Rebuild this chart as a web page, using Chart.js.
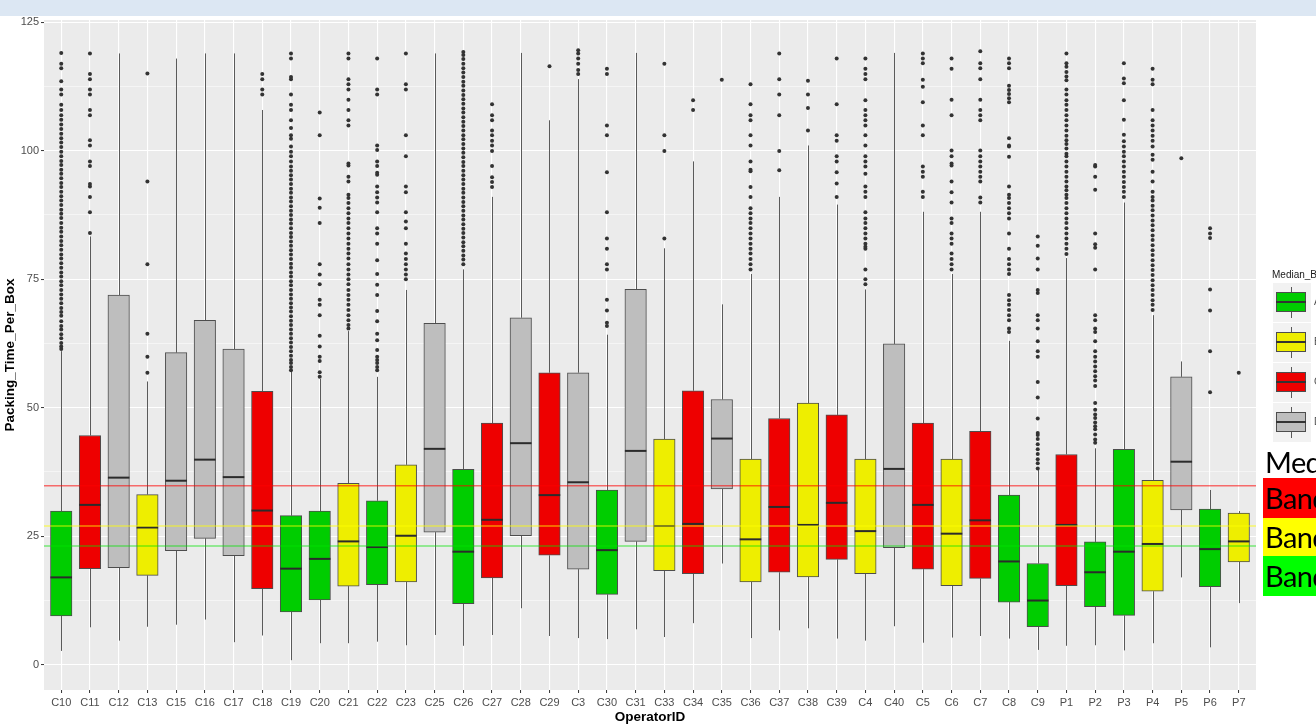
<!DOCTYPE html>
<html>
<head>
<meta charset="utf-8">
<title>Packing time per box by operator</title>
<script src="https://cdn.jsdelivr.net/npm/chart.js@4.4.1/dist/chart.umd.min.js"></script>
<style>
  html, body { margin: 0; padding: 0; background: #fff; width: 1316px; height: 725px; overflow: hidden; }
  #wrap { position: relative; width: 1316px; height: 725px; overflow: hidden; }
  #banner { position: absolute; left: 0; top: 0; width: 1316px; height: 16px; background: #dce7f3; }
  #chart { position: absolute; left: 0; top: 0; }
  .leg-title { position: absolute; left: 1272px; top: 269px; font: 10px 'Liberation Sans', Arial, sans-serif; color: #1a1a1a; white-space: nowrap; }
  .leg-key { position: absolute; left: 1273px; width: 38px; height: 39px; background: #f2f2f2; }
  .leg-key .wh { position: absolute; left: 18px; top: 4px; width: 1px; height: 31px; background: #595959; }
  .leg-key .bx { position: absolute; left: 3px; top: 9px; width: 30px; height: 20px; border: 1px solid #4d4d4d; box-sizing: border-box; }
  .leg-key .md { position: absolute; left: 3px; top: 18px; width: 30px; height: 2px; background: #333; }
  .leg-lab { position: absolute; left: 1314px; font: 10px 'Liberation Sans', Arial, sans-serif; color: #4d4d4d; }
  .note { position: absolute; left: 1263px; width: 120px; font-family: Lato, 'Open Sans', sans-serif; font-size: 29px; color: #000; white-space: nowrap; padding-left: 2px; letter-spacing: -0.6px; }
</style>
</head>
<body>
<div id="wrap">
  <div id="banner"></div>
  <canvas id="chart" width="1316" height="725"></canvas>
  <div id="legend"></div>
  <div class="note" style="top:444px;height:34px;line-height:36px;">Median</div>
  <div class="note" style="top:477.5px;height:40px;line-height:40px;background:#ff0000;">Band C</div>
  <div class="note" style="top:517.5px;height:38px;line-height:38px;background:#ffff00;">Band B</div>
  <div class="note" style="top:555.5px;height:40px;line-height:40px;background:#00ff00;">Band A</div>
</div>
<script>
// operators in the order ggplot sorted them
const operators = ['C10','C11','C12','C13','C15','C16','C17','C18','C19','C20',
                   'C21','C22','C23','C25','C26','C27','C28','C29','C3','C30',
                   'C31','C33','C34','C35','C36','C37','C38','C39','C4','C40',
                   'C5','C6','C7','C8','C9','P1','P2','P3','P4','P5',
                   'P6','P7'];

const medianBand = ['A','C','D','B','D','D','D','C','A','A',
                    'B','A','B','D','A','C','D','C','D','A',
                    'D','B','C','D','B','C','B','C','B','D',
                    'C','B','C','A','A','C','A','A','B','D',
                    'A','B'];

const whiskerLow = [2.7, 7.3, 4.7, 7.4, 7.8, 8.8, 4.4, 5.7, 0.9, 4.2,
                    4.2, 4.5, 3.8, 5.8, 3.7, 5.8, 11.0, 5.6, 5.2, 5.0,
                    6.9, 5.4, 8.1, 19.7, 5.2, 6.7, 7.1, 5.1, 4.7, 7.5,
                    4.3, 5.3, 5.6, 5.1, 2.9, 3.7, 3.8, 2.8, 4.2, 17.0,
                    3.4, 12.0];

const q1 = [9.5, 18.7, 18.9, 17.4, 22.2, 24.6, 21.2, 14.8, 10.3, 12.6,
            15.3, 15.6, 16.1, 25.8, 11.9, 16.9, 25.1, 21.3, 18.6, 13.7,
            24.0, 18.3, 17.7, 34.2, 16.1, 18.0, 17.1, 20.5, 17.7, 22.8,
            18.6, 15.4, 16.8, 12.2, 7.4, 15.4, 11.3, 9.6, 14.3, 30.1,
            15.2, 20.0];

const median = [17.0, 31.1, 36.4, 26.7, 35.8, 39.9, 36.5, 30.0, 18.7, 20.6,
                24.0, 22.9, 25.1, 42.0, 22.0, 28.2, 43.1, 33.0, 35.5, 22.3,
                41.6, 27.0, 27.4, 44.0, 24.4, 30.7, 27.2, 31.5, 26.0, 38.1,
                31.1, 25.5, 28.1, 20.1, 12.5, 27.2, 18.0, 22.0, 23.5, 39.5,
                22.5, 24.0];

const q3 = [29.9, 44.6, 71.9, 33.1, 60.7, 67.0, 61.4, 53.2, 29.0, 29.9,
            35.3, 31.9, 38.9, 66.4, 38.0, 47.0, 67.5, 56.8, 56.8, 34.0,
            73.0, 43.9, 53.3, 51.6, 40.0, 47.9, 50.9, 48.6, 40.0, 62.4,
            47.0, 40.0, 45.4, 33.0, 19.7, 40.9, 23.9, 41.9, 35.9, 56.0,
            30.3, 29.5];

const whiskerHigh = [61.0, 83.3, 118.9, 55.1, 117.9, 118.9, 118.9, 107.9, 57.0, 55.6,
                     64.9, 56.0, 72.9, 118.9, 76.9, 91.0, 119.0, 105.9, 113.9, 64.2,
                     119.0, 81.0, 97.9, 70.1, 76.0, 91.0, 101.0, 89.5, 73.0, 119.0,
                     88.1, 76.0, 88.1, 63.0, 38.0, 79.1, 42.1, 89.9, 68.0, 59.0,
                     34.0, 29.9];

// outliers per operator, same order as operators
const outliers = [
  [61.4,61.9,62.6,63.5,64.3,65.2,65.9,66.8,67.9,68.6,69.4,70.3,71.2,72.0,72.9,73.8,74.6,75.5,76.3,77.2,78.1,79.0,79.8,80.7,81.6,82.4,83.3,84.2,85.0,85.9,86.9,87.7,88.5,89.4,90.3,91.1,92.0,92.9,93.7,94.6,95.5,96.3,97.2,98.0,98.9,99.8,100.7,101.6,102.4,103.3,104.2,105.1,106.0,106.9,107.9,108.9,110.9,111.9,113.5,116.0,116.9,119.0],
  [84.0,88.0,91.0,93.0,93.5,97.0,97.9,101.0,102.0,106.9,107.9,110.9,111.9,113.9,114.9,118.9],
  [],
  [56.8,59.9,64.4,77.9,94.0,115.0],
  [],
  [],
  [],
  [110.9,111.9,113.9,114.9],
  [57.3,57.9,58.7,59.3,60.1,61.0,61.8,62.7,63.5,64.4,65.2,66.1,66.9,67.8,68.7,69.5,70.3,71.2,72.0,72.9,73.8,74.6,75.5,76.3,77.2,78.0,78.9,79.8,80.6,81.5,82.3,83.2,84.0,84.9,85.8,86.6,87.5,88.3,89.2,90.1,90.9,91.8,92.6,93.5,94.4,95.2,96.1,96.9,97.9,98.9,99.8,100.8,102.3,103.0,104.4,105.9,107.9,108.9,110.9,113.9,114.3,117.9,118.9],
  [56.0,56.9,59.1,59.9,61.9,64.0,68.0,70.0,71.0,74.0,75.9,77.9,85.9,88.9,90.7,103.0,107.4],
  [65.4,66.1,67.0,68.0,69.0,70.0,71.0,71.9,72.9,74.0,75.0,75.9,76.9,77.9,79.0,80.0,80.9,81.9,82.9,83.9,84.9,85.9,86.8,87.8,88.8,89.8,90.8,91.4,94.0,94.9,97.1,97.5,104.9,105.9,107.9,109.9,111.9,112.9,113.9,117.9,118.9],
  [57.3,57.9,58.7,59.3,59.9,61.2,63.1,64.4,66.8,68.8,71.9,73.9,76.0,78.7,81.9,83.9,84.9,88.0,89.9,90.9,91.9,93.0,95.3,95.7,97.0,97.9,100.1,101.0,110.9,111.9,117.9],
  [75.0,75.9,76.9,77.9,78.9,80.0,81.9,84.9,86.2,88.0,91.9,93.0,98.9,103.0,111.9,112.9,118.9],
  [],
  [77.9,78.8,79.6,80.5,81.4,82.2,83.1,84.0,84.8,85.7,86.6,87.4,88.3,89.2,90.0,90.9,91.8,92.6,93.5,94.4,95.2,96.1,97.0,97.8,98.7,99.6,100.4,101.3,102.2,103.0,103.9,104.8,105.6,106.5,107.4,108.2,109.1,110.0,110.8,111.7,112.6,113.4,114.3,115.2,116.0,116.9,117.8,118.6,119.2],
  [92.9,93.9,94.8,97.0,99.9,101.0,101.9,103.0,103.9,105.9,106.9,109.0],
  [],
  [116.4],
  [114.9,115.7,116.9,117.9,118.9,119.5],
  [65.9,66.5,68.9,71.0,76.9,77.9,80.9,82.9,88.0,95.8,103.0,104.9,114.9,115.9],
  [],
  [82.9,99.9,103.0,116.9],
  [107.9,109.8],
  [113.8],
  [76.9,77.9,78.9,80.0,80.9,81.9,82.9,83.9,84.9,85.9,86.8,87.8,88.8,91.0,92.9,96.0,96.3,97.9,101.0,103.0,105.9,106.9,109.0,112.9],
  [96.2,99.9,106.9,110.9,113.9,118.9],
  [103.9,108.3,110.9,113.6],
  [91.0,93.6,95.8,97.9,98.9,101.9,103.0,109.0,117.9],
  [74.0,75.0,76.9,80.9,81.3,81.9,82.9,83.9,84.9,85.9,86.8,88.0,91.0,92.0,93.0,95.5,96.9,97.9,98.9,101.0,103.0,104.9,105.9,106.9,107.9,109.8,113.9,114.9,115.9,117.9],
  [],
  [91.0,92.0,94.9,95.9,96.9,103.0,104.9,109.4,112.4,113.8,117.0,117.9,118.9],
  [76.9,77.9,78.9,80.0,81.9,82.9,83.9,85.9,86.8,89.9,91.9,94.0,97.1,97.5,98.9,100.0,106.9,109.9,115.9,117.9],
  [89.9,90.9,94.0,94.9,95.9,96.9,97.9,98.9,100.0,105.9,106.9,107.9,109.9,113.9,116.0,117.0,119.3],
  [64.7,65.4,67.0,68.0,69.0,70.0,70.9,71.9,76.0,76.9,77.9,78.9,80.9,83.9,86.8,87.8,88.8,89.8,90.8,91.4,93.0,98.8,100.8,101.0,102.4,109.4,110.2,111.0,111.8,112.6,116.0,117.0,117.9],
  [38.2,39.2,40.0,41.0,41.9,42.9,43.9,44.7,45.1,47.9,52.0,55.0,59.9,61.0,62.9,65.4,67.0,68.0,72.3,72.9,76.9,79.0,81.5,83.3],
  [79.9,80.9,81.9,82.9,83.9,84.9,85.9,86.8,87.8,88.8,89.8,90.8,91.4,92.3,93.0,94.0,94.9,95.9,96.9,97.9,98.9,99.4,100.4,101.3,102.0,102.9,103.9,104.9,105.9,106.9,107.9,108.9,109.8,110.9,111.9,113.7,114.4,115.3,116.3,117.0,118.9],
  [43.2,43.8,44.8,45.8,46.4,47.1,48.0,48.7,49.6,50.9,54.2,55.3,56.1,57.1,58.0,59.0,59.9,61.0,62.9,64.7,65.4,67.0,68.0,76.9,81.1,81.8,83.9,92.4,94.9,96.9,97.2],
  [91.0,92.0,92.9,93.9,94.9,95.9,96.9,97.9,98.9,99.8,100.8,101.8,103.1,106.0,109.8,113.1,114.0,117.0],
  [69.0,70.0,70.9,71.9,72.9,73.8,74.8,75.8,76.8,77.7,78.7,79.7,80.6,81.6,82.6,83.5,84.5,85.5,86.4,87.4,88.4,89.3,90.3,91.0,92.0,94.0,95.9,98.2,99.2,100.8,101.9,102.9,103.9,104.9,105.9,107.9,112.9,113.8,115.9],
  [98.5],
  [53.0,61.0,68.9,73.0,83.0,83.9,84.9],
  [56.8]
];

// horizontal reference lines: band thresholds
const refLineValues = [34.8, 27.0, 23.1];
const refLineColors = ['rgba(255, 0, 0, 0.55)', 'rgba(255, 255, 0, 0.55)', 'rgba(0, 230, 0, 0.5)'];

const legendBands = ['A', 'B', 'C', 'D'];
const BAND_COLORS = { A: '#00cd00', B: '#eeee00', C: '#ee0000', D: '#bebebe' };

const X_MIN = -0.6;
const X_MAX = operators.length - 1 + 0.6;
const Y_MIN = -4.9;
const Y_MAX = 125.4;

const TICK_FONT = { family: "'Liberation Sans', Arial, sans-serif", size: 11 };
const TITLE_FONT = { family: "'Liberation Sans', Arial, sans-serif", size: 13.5, weight: 'bold' };

const panelBackground = {
    id: 'panelBackground',
    beforeDraw(chart) {
        const { ctx, chartArea: { left, top, right, bottom } } = chart;
        ctx.save();
        ctx.fillStyle = '#ebebeb';
        ctx.fillRect(left, top, right - left, bottom - top);
        ctx.restore();
    }
};

const boxParts = {
    id: 'boxParts',
    beforeDatasetsDraw(chart) {
        const { ctx, scales: { x, y } } = chart;
        ctx.save();
        ctx.strokeStyle = '#5a5a5a';
        ctx.lineWidth = 1;
        operators.forEach((op, i) => {
            const px = Math.round(x.getPixelForValue(i)) + 0.5;
            ctx.beginPath();
            ctx.moveTo(px, y.getPixelForValue(whiskerLow[i]));
            ctx.lineTo(px, y.getPixelForValue(q1[i]));
            ctx.moveTo(px, y.getPixelForValue(q3[i]));
            ctx.lineTo(px, y.getPixelForValue(whiskerHigh[i]));
            ctx.stroke();
        });
        ctx.restore();
    },
    afterDatasetDraw(chart, args) {
        if (args.meta.type !== 'bar') return;
        const { ctx, scales: { y } } = chart;
        ctx.save();
        ctx.strokeStyle = '#2b2b2b';
        ctx.lineWidth = 2;
        args.meta.data.forEach((bar, i) => {
            const py = y.getPixelForValue(median[i]);
            ctx.beginPath();
            ctx.moveTo(bar.x - bar.width / 2, py);
            ctx.lineTo(bar.x + bar.width / 2, py);
            ctx.stroke();
        });
        ctx.restore();
    }
};

const boxData = operators.map((op, i) => ({ x: i, y: [q1[i], q3[i]] }));
const outlierData = [];
outliers.forEach((vals, i) => vals.forEach(v => outlierData.push({ x: i, y: v })));

const refDatasets = refLineValues.map((v, k) => ({
    type: 'line',
    data: [{ x: X_MIN, y: v }, { x: X_MAX, y: v }],
    borderColor: refLineColors[k],
    borderWidth: 1.5,
    pointRadius: 0,
    fill: false,
    order: 0
}));

new Chart(document.getElementById('chart').getContext('2d'), {
    type: 'bar',
    data: {
        datasets: [
            ...refDatasets,
            {
                type: 'scatter',
                data: outlierData,
                pointRadius: 2,
                pointBackgroundColor: '#333333',
                pointBorderWidth: 0,
                order: 1
            },
            {
                type: 'bar',
                data: boxData,
                backgroundColor: medianBand.map(b => BAND_COLORS[b]),
                borderColor: '#4d4d4d',
                borderWidth: 1,
                borderSkipped: false,
                barThickness: 21.5,
                order: 2
            }
        ]
    },
    options: {
        responsive: false,
        animation: false,
        events: [],
        layout: { padding: { left: 0, top: 20, right: 60, bottom: 0 } },
        plugins: {
            legend: { display: false },
            tooltip: { enabled: false }
        },
        scales: {
            x: {
                type: 'linear',
                min: X_MIN,
                max: X_MAX,
                offset: false,
                afterFit(scale) { scale.height = 35; },
                border: { display: false },
                grid: {
                    color: '#ffffff',
                    lineWidth: 1.1,
                    offset: false,
                    drawTicks: true,
                    tickLength: 3,
                    tickColor: '#333333',
                    tickWidth: 1
                },
                ticks: {
                    stepSize: 1,
                    includeBounds: false,
                    autoSkip: false,
                    maxRotation: 0,
                    padding: 3,
                    font: TICK_FONT,
                    color: '#4d4d4d',
                    callback: v => operators[v] ?? ''
                },
                title: {
                    display: true,
                    text: 'OperatorID',
                    font: TITLE_FONT,
                    color: '#000000',
                    padding: { top: 0, bottom: 0 }
                }
            },
            y: {
                type: 'linear',
                min: Y_MIN,
                max: Y_MAX,
                afterFit(scale) { scale.width = 44; },
                border: { display: false },
                grid: {
                    color: '#ffffff',
                    lineWidth: ctx => (ctx.tick && ctx.tick.value % 25 === 0) ? 1.1 : 0.5,
                    tickLength: 3,
                    tickColor: ctx => (ctx.tick && ctx.tick.value % 25 === 0) ? '#333333' : 'rgba(0,0,0,0)',
                    tickWidth: 1
                },
                ticks: {
                    stepSize: 12.5,
                    includeBounds: false,
                    padding: 2,
                    font: TICK_FONT,
                    color: '#4d4d4d',
                    callback: v => (v % 25 === 0 ? String(v) : '')
                },
                title: {
                    display: true,
                    text: 'Packing_Time_Per_Box',
                    font: TITLE_FONT,
                    color: '#000000',
                    padding: { top: 2, bottom: 0 }
                }
            }
        }
    },
    plugins: [panelBackground, boxParts]
});

// ggplot-style legend, cut off at the right edge like the screenshot
const legend = document.getElementById('legend');
let html = '<div class="leg-title">Median_Band</div>';
legendBands.forEach((b, k) => {
    const top = 283 + k * 40;
    html += `<div class="leg-key" style="top:${top}px"><div class="wh"></div>` +
            `<div class="bx" style="background:${BAND_COLORS[b]}"></div><div class="md"></div></div>` +
            `<div class="leg-lab" style="top:${top + 13}px">${b}</div>`;
});
legend.innerHTML = html;
</script>
</body>
</html>
